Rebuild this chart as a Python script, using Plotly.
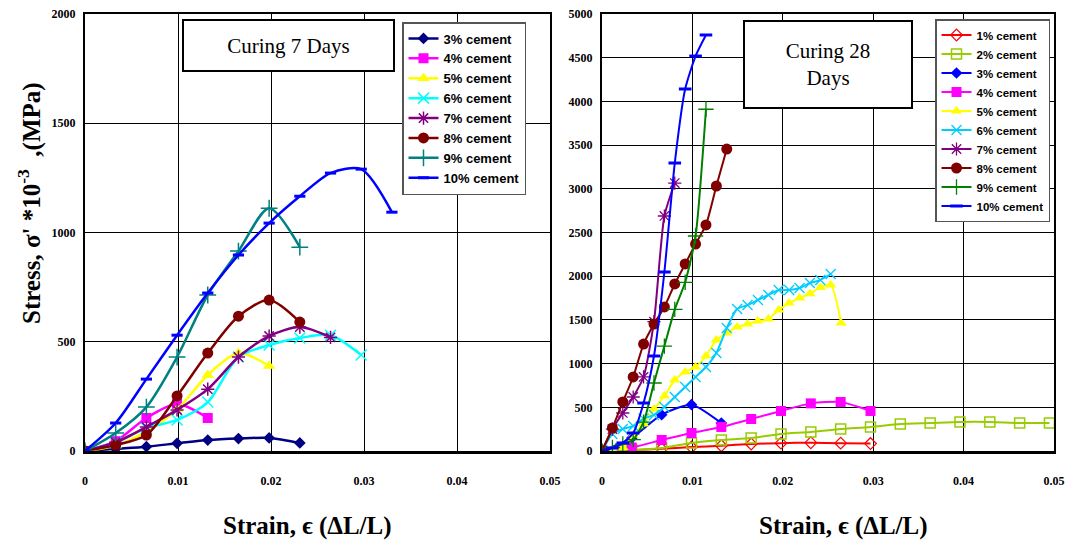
import plotly.graph_objects as go

# ---------------- data: Curing 7 days ----------------
strain7 = [0, 0.0033, 0.0066, 0.0099, 0.0132, 0.0165, 0.0198, 0.0231, 0.0264, 0.0297, 0.0330]
s7_3 = [0, 10, 20, 35, 50, 57, 60, 37]
s7_4 = [0, 45, 151, 215, 151]
s7_5 = [0, 25, 90, 190, 348, 448, 389]
s7_6 = [0, 40, 105, 142, 224, 430, 485, 517, 530, 439]
s7_7 = [0, 40, 110, 188, 283, 430, 526, 567, 520]
s7_8 = [0, 27, 73, 252, 448, 617, 691, 590]
s7_9 = [0, 82, 201, 430, 714, 915, 1111, 933]
s7_10 = [0, 128, 329, 530, 723, 897, 1043, 1166, 1272, 1290, 1093]

# ---------------- data: Curing 28 days ----------------
strain28_coarse = [0, 0.0033, 0.0066, 0.0099, 0.0132, 0.0165, 0.0198, 0.0231, 0.0264,
                   0.0297, 0.0330, 0.0363, 0.0396, 0.0429, 0.0462, 0.0495]
strain28_fine = [0, 0.00115, 0.0023, 0.00345, 0.0046, 0.00575, 0.0069, 0.00805, 0.0092,
                 0.01035, 0.0115, 0.01265, 0.0138, 0.01495, 0.0161, 0.01725, 0.0184,
                 0.01955, 0.0207, 0.02185, 0.023, 0.02415, 0.0253, 0.02645]
s28_1 = [0, 10, 25, 45, 60, 80, 90, 95, 90, 85]
s28_2 = [0, 11, 34, 92, 126, 149, 195, 217, 252, 275, 309, 320, 332, 332, 320, 320]
s28_3 = [0, 150, 415, 530, 320]
s28_4 = [0, 40, 126, 206, 275, 366, 458, 545, 561, 458]
s28_5 = [0, 15, 40, 180, 310, 480, 629, 812, 904, 961, 1087, 1270, 1350, 1419, 1453,
         1487, 1510, 1613, 1693, 1750, 1800, 1870, 1900, 1465]
s28_6 = [0, 194, 252, 286, 370, 412, 503, 618, 732, 847, 961, 1121, 1407, 1625, 1670,
         1728, 1785, 1842, 1842, 1865, 1922, 1956, 2025]
s28_7 = [0, 250, 435, 618, 847, 1480, 2689, 3066]
s28_8 = [0, 263, 561, 847, 1224, 1453, 1648, 1911, 2140, 2368, 2586, 3032, 3455]
s28_9 = [0, 40, 80, 130, 330, 778, 1200, 1620, 1930, 2460, 3910]
s28_10 = [0, 34, 92, 206, 549, 1087, 2048, 3295, 4142, 4519, 4760]

labels7 = ["3% cement", "4% cement", "5% cement", "6% cement", "7% cement",
           "8% cement", "9% cement", "10% cement"]
labels28 = ["1% cement", "2% cement", "3% cement", "4% cement", "5% cement",
            "6% cement", "7% cement", "8% cement", "9% cement", "10% cement"]

# body margin is removed after drawing (post_script), so the figure fills the window
W, H = 1068, 544
SERIF = "Liberation Serif, Times New Roman, serif"
SANS = "Liberation Sans, Arial, sans-serif"


def px_x(p):
    return p / W


def px_y(p):
    return (H - p) / H


fig = go.Figure()

# style: (color, symbol, size, marker line width)
style7 = [
    ("#000080", "diamond", 9, 0),
    ("#FF00FF", "square", 10, 0),
    ("#FFFF00", "triangle-up", 11, 0),
    ("#00FFFF", "x-thin", 11, 1.5),
    ("#800080", "asterisk", 11, 1.5),
    ("#800000", "circle", 11, 0),
    ("#008080", "cross-thin", 12, 1.5),
    ("#0000FF", "line-ew", 8, 3),
]
series7 = [s7_3, s7_4, s7_5, s7_6, s7_7, s7_8, s7_9, s7_10]

for lab, ys, (col, sym, sz, mlw) in zip(labels7, series7, style7):
    fig.add_trace(go.Scatter(
        x=strain7[:len(ys)], y=ys, name=lab, mode="lines+markers",
        line=dict(color=col, width=2.5, shape="spline", smoothing=0.8),
        marker=dict(symbol=sym, size=sz, color=col, line=dict(color=col, width=mlw)),
        xaxis="x", yaxis="y", legend="legend",
    ))

style28 = [
    ("#FF0000", "diamond-open", 9, 1.2),
    ("#99CC00", "square-open", 10, 1.5),
    ("#0000FF", "diamond", 9, 0),
    ("#FF00FF", "square", 10, 0),
    ("#FFFF00", "triangle-up", 10, 0),
    ("#00CCFF", "x-thin", 10, 1.3),
    ("#800080", "asterisk", 11, 1.3),
    ("#800000", "circle", 11, 0),
    ("#008000", "cross-thin", 11, 1.3),
    ("#0000FF", "line-ew", 9, 3),
]
series28 = [s28_1, s28_2, s28_3, s28_4, s28_5, s28_6, s28_7, s28_8, s28_9, s28_10]
coarse_idx = {0, 1, 2, 3}

for i, (lab, ys, (col, sym, sz, mlw)) in enumerate(zip(labels28, series28, style28)):
    xs = strain28_coarse if i in coarse_idx else strain28_fine
    fig.add_trace(go.Scatter(
        x=xs[:len(ys)], y=ys, name=lab, mode="lines+markers",
        line=dict(color=col, width=2, shape="spline", smoothing=0.6),
        marker=dict(symbol=sym, size=sz, color=col, line=dict(color=col, width=mlw)),
        xaxis="x2", yaxis="y2", legend="legend2",
    ))

tickfont = dict(family=SERIF, size=12, color="black", weight="bold")
common_x = dict(range=[0, 0.05], dtick=0.01, tick0=0, showgrid=True, gridcolor="black",
                gridwidth=1, showline=True, linecolor="black", linewidth=2.5, mirror=True,
                ticks="", tickfont=tickfont, ticklabelstandoff=17, zeroline=False,
                ticklabeloverflow="allow", fixedrange=True)
common_y = dict(dtick=500, tick0=0, showgrid=True, gridcolor="black", gridwidth=1,
                showline=True, linecolor="black", linewidth=2, mirror=True,
                ticks="", tickfont=tickfont, ticklabelstandoff=5, zeroline=False,
                ticklabeloverflow="allow", fixedrange=True)

legend_common = dict(
    bgcolor="white", bordercolor="#555555", borderwidth=1.5,
    xanchor="left", yanchor="top", itemwidth=30, itemclick=False,
    tracegroupgap=0,
)

fig.update_layout(
    width=W, height=H,
    margin=dict(l=0, r=0, t=0, b=0, autoexpand=False),
    paper_bgcolor="white", plot_bgcolor="white",
    xaxis=dict(domain=[px_x(85), px_x(550)], anchor="y", **common_x),
    yaxis=dict(domain=[px_y(451), px_y(14)], anchor="x", range=[0, 2000], **common_y),
    xaxis2=dict(domain=[px_x(602), px_x(1054)], anchor="y2", **common_x),
    yaxis2=dict(domain=[px_y(451), px_y(14)], anchor="x2", range=[0, 5000], **common_y),
    legend=dict(x=px_x(402), y=px_y(22),
                font=dict(family=SANS, size=13, color="black", weight="bold"),
                **legend_common),
    legend2=dict(x=px_x(935), y=px_y(19),
                 font=dict(family=SANS, size=11.5, color="black", weight="bold"),
                 **legend_common),
    showlegend=True,
)

# Boxes with the curing time
fig.add_annotation(
    x=px_x(288.5), y=px_y(45.5), xref="paper", yref="paper", showarrow=False,
    text="Curing 7 Days", font=dict(family=SERIF, size=21, color="black"),
    bordercolor="black", borderwidth=2, bgcolor="white", width=209, height=49,
    borderpad=0, xanchor="center", yanchor="middle",
)
fig.add_annotation(
    x=px_x(828), y=px_y(64.5), xref="paper", yref="paper", showarrow=False,
    text="Curing 28<br>Days", font=dict(family=SERIF, size=21, color="black"),
    bordercolor="black", borderwidth=2, bgcolor="white", width=166, height=85,
    borderpad=0, xanchor="center", yanchor="middle", align="center",
)

# Axis titles
title_font = dict(family=SERIF, size=25, color="black", weight="bold")
fig.add_annotation(
    x=px_x(29), y=px_y(203), xref="paper", yref="paper", showarrow=False,
    text="Stress, σ' *10<sup>-3</sup>  ,(MPa)", textangle=-90, font=title_font,
    xanchor="center", yanchor="middle",
)
fig.add_annotation(
    x=px_x(307), y=px_y(526), xref="paper", yref="paper", showarrow=False,
    text="Strain, ϵ (ΔL/L)", font=title_font, xanchor="center", yanchor="middle",
)
fig.add_annotation(
    x=px_x(843), y=px_y(526), xref="paper", yref="paper", showarrow=False,
    text="Strain, ϵ (ΔL/L)", font=title_font, xanchor="center", yanchor="middle",
)

fig.write_html(
    "out.html",
    config={"displayModeBar": False, "staticPlot": True},
    post_script="document.body.style.margin='0';document.body.style.overflow='hidden';",
)
